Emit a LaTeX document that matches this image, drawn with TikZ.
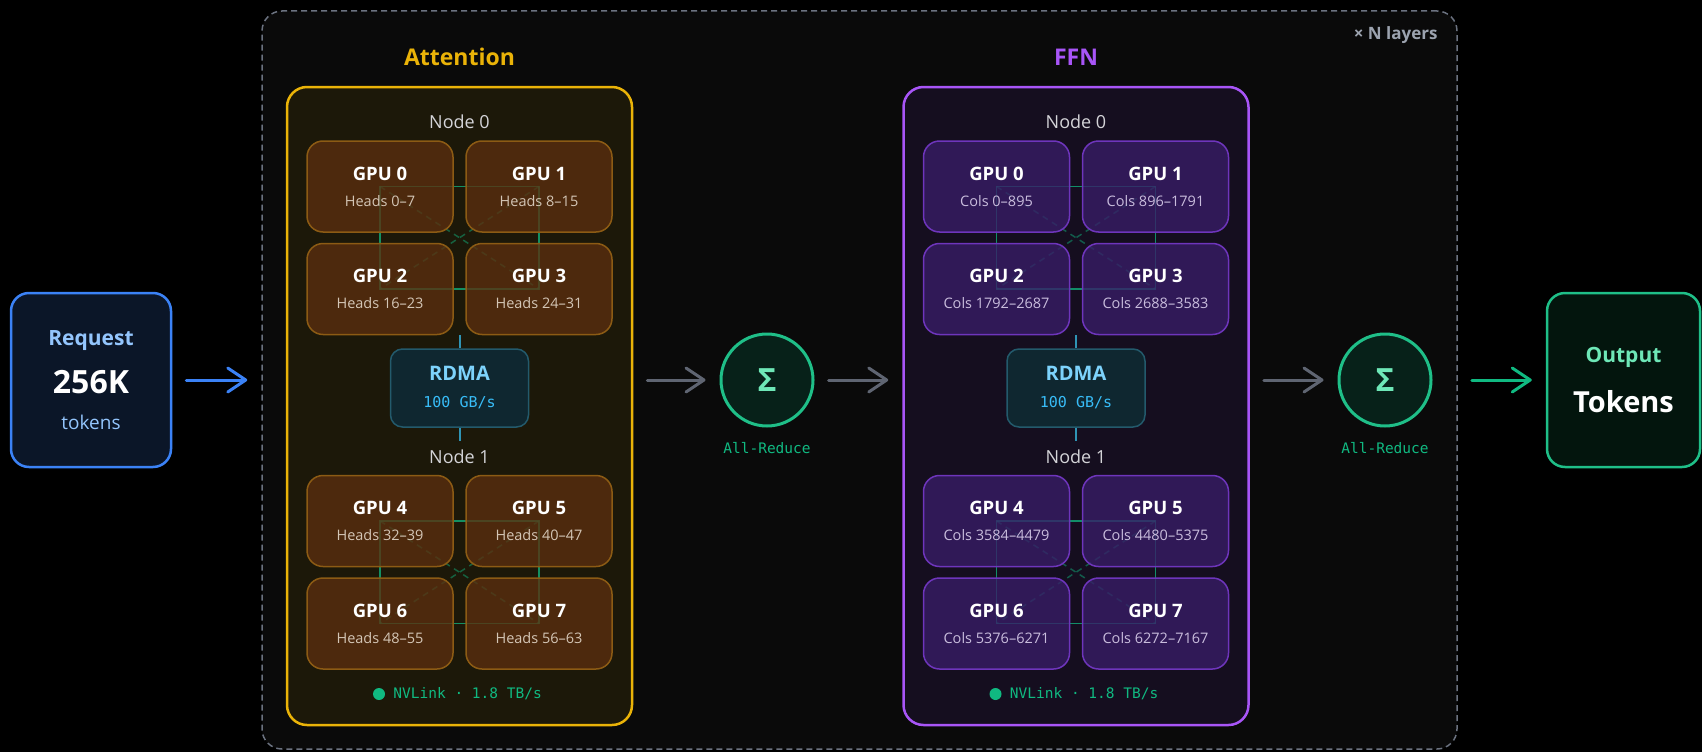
\documentclass[tikz,border=0pt]{standalone}
\usepackage{fontspec}
\setmainfont{Open Sans}
\setmonofont{DejaVu Sans Mono}
\usetikzlibrary{arrows.meta,positioning,calc}

\definecolor{bgout}{HTML}{000000}
\definecolor{bglayer}{HTML}{0A0A0A}
\definecolor{dashgray}{HTML}{6B7280}
\definecolor{lblgray}{HTML}{9CA3AF}
\definecolor{attnline}{HTML}{EAB308}
\definecolor{attnfill}{HTML}{1C1809}
\definecolor{gpuafill}{HTML}{5C2F0F}
\definecolor{gpuadraw}{HTML}{8C5B14}
\definecolor{headstext}{HTML}{D4C6B6}
\definecolor{ffnline}{HTML}{A855F7}
\definecolor{ffnfill}{HTML}{150E1F}
\definecolor{gpuffill}{HTML}{381D68}
\definecolor{gpufdraw}{HTML}{6E35BC}
\definecolor{colstext}{HTML}{C9BDDD}
\definecolor{rdmafill}{HTML}{0F2730}
\definecolor{rdmadraw}{HTML}{235A6C}
\definecolor{rdmatitle}{HTML}{7DD3FC}
\definecolor{rdmasub}{HTML}{38BDF8}
\definecolor{rdmalink}{HTML}{2F94B5}
\definecolor{nodetext}{HTML}{D4D4D8}
\definecolor{nvgreen}{HTML}{10B981}
\definecolor{sumline}{HTML}{1FBF88}
\definecolor{sumfill}{HTML}{072119}
\definecolor{sumtext}{HTML}{6EE7B7}
\definecolor{reqline}{HTML}{3B82F6}
\definecolor{reqfill}{HTML}{0B1628}
\definecolor{reqtext}{HTML}{93C5FD}
\definecolor{outfill}{HTML}{03150D}
\definecolor{arrowgray}{HTML}{5F6572}

\newcommand{\fsz}[2]{\fontsize{#1}{#2}\selectfont}

\pgfdeclarelayer{back}
\pgfdeclarelayer{mid}
\pgfsetlayers{back,mid,main}

\tikzset{
  layerbox/.style={draw=dashgray, fill=bglayer, dash pattern=on 6pt off 4pt, line width=1.5pt,
    rounded corners=20pt, minimum width=1195pt, minimum height=738pt},
  panel/.style={draw=#1, line width=2.5pt, rounded corners=20pt, minimum width=345pt, minimum height=638pt},
  paneltitle/.style={font=\bfseries\fsz{23}{26}, text=#1},
  gpubox/.style={line width=1.5pt, rounded corners=16pt, minimum width=146pt, minimum height=91pt,
    fill opacity=.78, text opacity=1, align=center, inner sep=0pt, font=\fsz{14.5}{26}},
  gpua/.style={gpubox, draw=gpuadraw, fill=gpuafill, text=headstext},
  gpuf/.style={gpubox, draw=gpufdraw, fill=gpuffill, text=colstext},
  nodelbl/.style={text=nodetext, font=\fsz{18}{20}},
  rdmabox/.style={draw=rdmadraw, fill=rdmafill, line width=1.5pt, rounded corners=12pt,
    minimum width=138pt, minimum height=78pt, align=center, inner sep=0pt,
    font=\ttfamily\fsz{15}{27}, text=rdmasub},
  rdmaln/.style={draw=rdmalink, line width=2pt},
  nvsq/.style={draw=nvgreen, draw opacity=.75, line width=1.8pt},
  nvdiag/.style={draw=nvgreen, draw opacity=.45, line width=1.5pt, dash pattern=on 6pt off 5pt},
  nvdot/.style={circle, fill=nvgreen, inner sep=0pt, minimum size=12pt},
  nvtext/.style={text=nvgreen, font=\ttfamily\fsz{14.5}{16}, inner sep=0pt},
  sumnode/.style={circle, draw=sumline, fill=sumfill, line width=3pt, minimum size=92pt,
    inner sep=0pt, text=sumtext, font=\bfseries\fsz{32}{32}},
  sumlbl/.style={text=nvgreen, font=\ttfamily\fsz{14.5}{16}},
  endbox/.style={line width=2.5pt, rounded corners=18pt, minimum height=174pt, align=center, inner sep=0pt},
  flow/.style={line width=3pt, line cap=round, -{Straight Barb[length=18pt,width=24pt,round]},
    shorten <=14pt, shorten >=14pt},
}

\begin{document}
\begin{tikzpicture}[x=1pt,y=-1pt]
\useasboundingbox (0,0) rectangle (1702,752);

% repeated block and the two panels
\begin{pgfonlayer}{back}
\fill[bgout] (0,0) rectangle (1702,752);
\node[layerbox] (layers) at (859.5,380) {};
\node[panel=attnline, fill=attnfill] (attn) at (459.5,406) {};
\node[panel=ffnline, fill=ffnfill] (ffn) at (1076,406) {};
\end{pgfonlayer}

\node[anchor=east, text=lblgray, font=\bfseries\fsz{17}{18}] (nlayers) at (1441,35) {× N layers};
\node[paneltitle=attnline] (attntitle) at (459.5,57) {Attention};
\node[paneltitle=ffnline] (ffntitle) at (1076,57) {FFN};

% GPUs
\foreach \i in {0,...,7}{
  \pgfmathsetmacro\gx{(2*mod(\i,2)-1)*79.5}
  \pgfmathsetmacro\gy{186.5+102.5*mod(floor(\i/2),2)+334.5*floor(\i/4)}
  \pgfmathtruncatemacro\lo{8*\i}
  \pgfmathtruncatemacro\hi{8*\i+7}
  \pgfmathtruncatemacro\clo{896*\i}
  \pgfmathtruncatemacro\chi{896*\i+895}
  \node[gpua] (a\i) at (459.5+\gx,\gy) {{\bfseries\fsz{18.5}{26}\textcolor{white}{GPU \i}}\\Heads \lo–\hi};
  \node[gpuf] (f\i) at (1076+\gx,\gy) {{\bfseries\fsz{18.5}{26}\textcolor{white}{GPU \i}}\\Cols \clo–\chi};
}

% NVLink mesh inside each node
\begin{pgfonlayer}{mid}
\foreach \p in {a,f}{
  \foreach \k/\m/\n/\o in {0/1/2/3,4/5/6/7}{
    \draw[nvsq] (\p\k.center) -- (\p\m.center) -- (\p\o.center) -- (\p\n.center) -- cycle;
    \draw[nvdiag] (\p\k.center) -- (\p\o.center) (\p\m.center) -- (\p\n.center);
  }
}
\end{pgfonlayer}

% node labels, RDMA, legend
\foreach \p/\cx in {a/459.5,f/1076}{
  \node[nodelbl] (\p n0) at (\cx,122) {Node 0};
  \node[nodelbl] (\p n1) at (\cx,457) {Node 1};
  \node[rdmabox] (\p rdma) at (\cx,388) {{\rmfamily\bfseries\fsz{20}{27}\textcolor{rdmatitle}{RDMA}}\\100 GB/s};
  \draw[rdmaln] (\p rdma.north) -- (\p rdma.north |- \p2.south);
  \draw[rdmaln] (\p rdma.south) -- ++(0,13) coordinate (\p rdmaend);
  \node[nvdot] (\p dot) at (\cx-80.5,694) {};
  \node[nvtext, right=8pt of \p dot] (\p nv) {NVLink · 1.8 TB/s};
}

% all-reduce
\node[sumnode] (s1) at (767,380) {Σ};
\node[sumlbl] (r1) at (767,448) {All-Reduce};
\node[sumnode] (s2) at (1385,380) {Σ};
\node[sumlbl] (r2) at (1385,448) {All-Reduce};

% ends
\node[endbox, draw=reqline, fill=reqfill, minimum width=160pt, text=reqtext, font=\fsz{19}{36}] (req) at (91,380)
  {{\bfseries\fsz{21}{36}Request}\\[12pt]{\bfseries\fsz{32}{36}\textcolor{white}{256K}}\\tokens};
\node[endbox, draw=sumline, fill=outfill, minimum width=153pt, font=\fsz{21}{50}] (out) at (1623.5,380)
  {{\bfseries\textcolor{sumtext}{Output}}\\{\bfseries\fsz{29}{50}\textcolor{white}{Tokens}}};

% flow
\draw[flow, reqline] (req) -- (layers);
\draw[flow, arrowgray] (s1 -| attn.east) -- (s1);
\draw[flow, arrowgray] (s1) -- (s1 -| ffn.west);
\draw[flow, arrowgray] (s2 -| ffn.east) -- (s2);
\draw[flow, nvgreen] (layers) -- (out);

\end{tikzpicture}
\end{document}
